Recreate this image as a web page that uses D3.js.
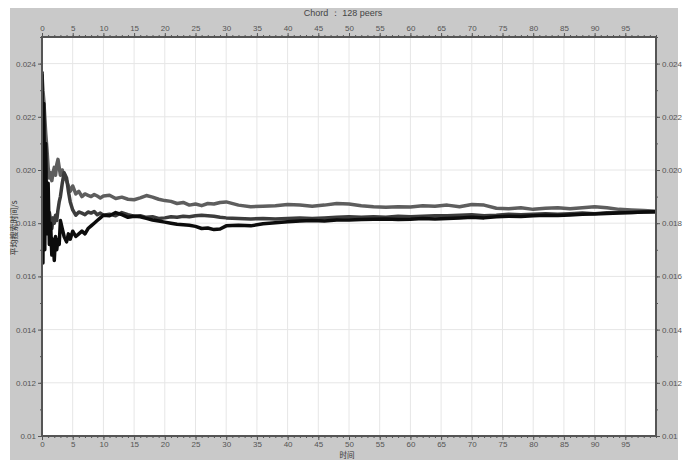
<!DOCTYPE html>
<html><head><meta charset="utf-8">
<script src="https://cdn.jsdelivr.net/npm/d3@7"></script>
<style>body{margin:0;background:#fff}svg{display:block}</style>
</head><body>
<svg id="c" width="686" height="460"></svg>
<script>
const title = "Chord ： 128 peers";
const xLabel = "时间";
const yLabel = "平均搜索时间/s";
const xTicks = d3.range(0, 100, 5);
const yTicks = [0.01, 0.012, 0.014, 0.016, 0.018, 0.02, 0.022, 0.024];
const yTickLabels = ["0.01", "0.012", "0.014", "0.016", "0.018", "0.020", "0.022", "0.024"];
const xs = [0,0.15,0.3,0.45,0.6,0.8,1,1.2,1.4,1.6,1.8,2,2.2,2.4,2.6,2.8,3,3.3,3.6,4,4.3,4.6,5,5.5,6,6.5,7,7.5,8,8.5,9,9.5,10,11,12,13,14,15,16,17,18,19,20,21,22,23,24,25,26,27,28,29,30,32,34,36,38,40,42,44,46,48,50,52,54,56,58,60,62,64,66,68,70,72,74,76,78,80,82,84,86,88,90,92,94,96,98,100];
const seriesA = [0.0236,0.0230,0.0226,0.0220,0.0214,0.0208,0.0201,0.0197,0.0199,0.0196,0.0199,0.0201,0.0198,0.0202,0.0204,0.0201,0.0198,0.0200,0.0197,0.0196,0.0194,0.0192,0.0194,0.0191,0.0192,0.0190,0.0191,0.01905,0.0190,0.01908,0.01902,0.01895,0.01902,0.01905,0.01893,0.01898,0.0189,0.01888,0.01895,0.01904,0.01898,0.0189,0.01885,0.01882,0.01874,0.01878,0.01868,0.01872,0.01866,0.01874,0.01872,0.01878,0.0188,0.01868,0.01862,0.01864,0.01866,0.0187,0.01868,0.01864,0.01868,0.01874,0.01872,0.01866,0.01862,0.0186,0.01862,0.01861,0.01866,0.01864,0.01868,0.01862,0.0187,0.01868,0.01856,0.01854,0.01858,0.01852,0.01856,0.01858,0.01854,0.01858,0.01862,0.01858,0.01852,0.0185,0.01848,0.01845];
const seriesB = [0.0180,0.0195,0.0178,0.0188,0.0182,0.0185,0.0180,0.0184,0.0181,0.0178,0.0182,0.0180,0.0183,0.0181,0.0185,0.0188,0.0190,0.0195,0.0199,0.0197,0.0192,0.0188,0.0185,0.0183,0.01842,0.01838,0.01832,0.01842,0.01838,0.01844,0.01832,0.01838,0.0183,0.01834,0.01828,0.0184,0.01832,0.01826,0.01828,0.01822,0.01824,0.01818,0.0182,0.01824,0.01822,0.01826,0.01824,0.01828,0.0183,0.01828,0.01826,0.01822,0.0182,0.01818,0.01816,0.01818,0.01816,0.01818,0.0182,0.01818,0.0182,0.01822,0.01824,0.01822,0.01824,0.01822,0.01826,0.01824,0.01826,0.01828,0.01828,0.0183,0.01832,0.01828,0.0183,0.01834,0.01832,0.01834,0.01836,0.01834,0.01836,0.01838,0.01836,0.01839,0.0184,0.0184,0.01842,0.01843];
const seriesC = [0.0237,0.0165,0.0225,0.0170,0.0210,0.0176,0.0195,0.0172,0.0180,0.0168,0.0174,0.0166,0.0175,0.0170,0.0174,0.0172,0.0181,0.0178,0.0175,0.0173,0.0176,0.0174,0.0177,0.0175,0.0176,0.0177,0.0176,0.0178,0.0179,0.0180,0.0181,0.0182,0.0183,0.01828,0.0184,0.01832,0.01822,0.01826,0.01824,0.01818,0.01812,0.01808,0.01804,0.018,0.01796,0.01794,0.01792,0.01788,0.0178,0.01782,0.01776,0.01778,0.0179,0.01792,0.0179,0.01798,0.01802,0.01805,0.01808,0.0181,0.01808,0.01812,0.01812,0.01814,0.01815,0.01816,0.01814,0.01815,0.01818,0.01816,0.01818,0.0182,0.01822,0.0182,0.01824,0.01826,0.01825,0.01828,0.0183,0.01829,0.01831,0.01834,0.01835,0.01836,0.01838,0.0184,0.01842,0.01843];
const seriesColors = ["#5e5e5e", "#3c3c3c", "#0c0c0c"];

const svg = d3.select("#c");
const L = 42, R = 656, T = 37, B = 436;
svg.append("rect").attr("x",10).attr("y",8).attr("width",668).attr("height",452).attr("fill","#c9c9c9");
svg.append("rect").attr("x",L).attr("y",T).attr("width",R-L).attr("height",B-T).attr("fill","#fff");

const x = d3.scaleLinear().domain([0,100]).range([L,R]);
const y = d3.scaleLinear().domain([0.01,0.025]).range([B,T]);

// grid
const g = svg.append("g");
g.selectAll(".gx").data(xTicks.slice(1)).join("line")
  .attr("x1",d=>x(d)).attr("x2",d=>x(d)).attr("y1",T).attr("y2",B)
  .attr("stroke","#e6e6e6").attr("stroke-width",1);
g.selectAll(".gy").data(yTicks.slice(1)).join("line")
  .attr("y1",d=>y(d)).attr("y2",d=>y(d)).attr("x1",L).attr("x2",R)
  .attr("stroke","#e6e6e6").attr("stroke-width",1);

// series
svg.append("clipPath").attr("id","cp").append("rect").attr("x",L).attr("y",T).attr("width",R-L).attr("height",B-T);
const line = d3.line().x((d,i)=>x(xs[i])).y(d=>y(d));
[seriesA, seriesB, seriesC].forEach((s,k)=>{
  svg.append("path").datum(s).attr("d",line).attr("fill","none")
    .attr("stroke",seriesColors[k]).attr("stroke-width",3.5).attr("stroke-linejoin","round")
    .attr("clip-path","url(#cp)");
});

// axes
const fmtY = d => yTickLabels[yTicks.findIndex(v => Math.abs(v-d) < 1e-9)];
const minorX = d3.range(0, 101, 1), minorY = d3.range(0.01, 0.0251, 0.001);
function styleAxis(sel){
  sel.select(".domain").remove();
  sel.selectAll("line").attr("stroke","#555");
  sel.selectAll("text").attr("fill","#555").style("font-family","Liberation Sans, Arial, sans-serif").style("font-size","8px");
}
const mk = (axis, tr, vals, fmt, size, pad) => {
  const a = svg.append("g").attr("transform",tr).call(axis.tickValues(vals).tickSize(size).tickPadding(pad).tickFormat(fmt));
  styleAxis(a);
  return a;
};
mk(d3.axisBottom(x), `translate(0,${B})`, minorX, ()=>"", 2, 0);
mk(d3.axisBottom(x), `translate(0,${B})`, xTicks, d3.format("d"), 4, 1);
mk(d3.axisTop(x), `translate(0,${T})`, minorX, ()=>"", 2, 0);
mk(d3.axisTop(x), `translate(0,${T})`, xTicks, d3.format("d"), 4, 2);
mk(d3.axisLeft(y), `translate(${L},0)`, minorY, ()=>"", 2, 0);
mk(d3.axisLeft(y), `translate(${L},0)`, yTicks, fmtY, 4, 2);
mk(d3.axisRight(y), `translate(${R},0)`, minorY, ()=>"", 2, 0);
mk(d3.axisRight(y), `translate(${R},0)`, yTicks, fmtY, 4, 2);

// frame
svg.append("rect").attr("x",L).attr("y",T).attr("width",R-L).attr("height",B-T)
  .attr("fill","none").attr("stroke","#555").attr("stroke-width",2);

svg.append("text").attr("x",343).attr("y",16).attr("text-anchor","middle")
  .attr("fill","#444").style("font-family","Liberation Sans, Arial, sans-serif").style("font-size","9px").text(title);
svg.append("text").attr("x",347).attr("y",458).attr("text-anchor","middle")
  .attr("fill","#333").style("font-family","Noto Sans CJK SC").style("font-size","7.5px").text(xLabel);
svg.append("text").attr("transform","translate(17,228) rotate(-90)").attr("text-anchor","middle")
  .attr("fill","#333").style("font-family","Noto Sans CJK SC").style("font-size","8px").text(yLabel);
</script>
</body></html>
